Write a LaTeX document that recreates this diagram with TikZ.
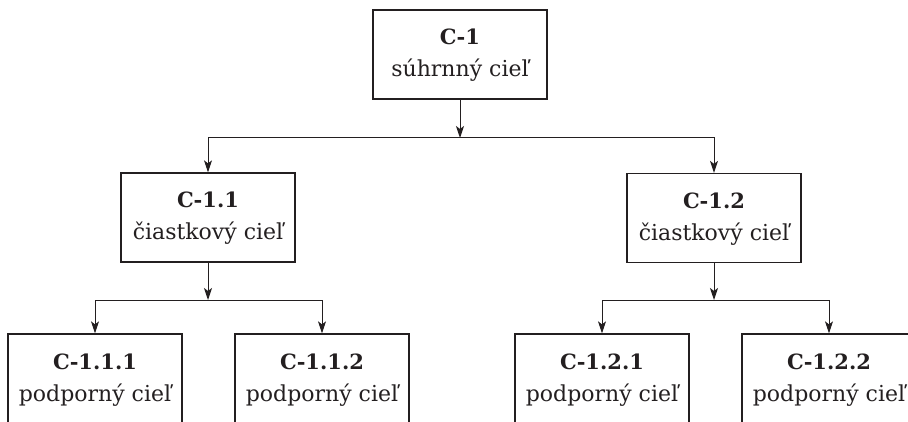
\documentclass[tikz,border=0pt]{standalone}
\usepackage{fontspec}
\setmainfont{DejaVu Serif}
\usetikzlibrary{arrows.meta}
\definecolor{ink}{HTML}{231F20}
\newcommand{\goaltxt}[2]{{\fontsize{21}{32}\selectfont\bfseries #1}\\#2}
\tikzset{
  goal/.style={draw=ink, line width=1.3pt, rectangle, minimum width=174pt, minimum height=89pt,
    inner sep=0pt, align=center, text=ink, font=\fontsize{22}{32}\selectfont,
    text height=51pt, text depth=6pt},
  conn/.style={draw=ink, line width=1pt, -{Stealth[length=12pt, width=8pt, inset=3pt]}},
  link/.style={draw=ink, line width=1pt}
}
\begin{document}
\begin{tikzpicture}[x=1pt, y=-1pt]
\useasboundingbox (0,0) rectangle (908,422);
\clip (0,0) rectangle (908,422);
\node[goal] (c1) at (460,54.5) {\goaltxt{C-1}{súhrnný cieľ}};
\node[goal] (c11) at (208,217.5) {\goaltxt{C-1.1}{čiastkový cieľ}};
\node[goal] (c12) at (714,218) {\goaltxt{C-1.2}{čiastkový cieľ}};
\node[goal] (c111) at (95,378.5) {\goaltxt{C-1.1.1}{podporný cieľ}};
\node[goal] (c112) at (322,378.5) {\goaltxt{C-1.1.2}{podporný cieľ}};
\node[goal] (c121) at (602,378.5) {\goaltxt{C-1.2.1}{podporný cieľ}};
\node[goal] (c122) at (829,378.5) {\goaltxt{C-1.2.2}{podporný cieľ}};
\coordinate (j1) at (460,138);
\coordinate (j11) at (208,300);
\coordinate (j12) at (714,300);
\draw[conn] (c1.south) -- (j1);
\draw[conn] (j1) -| (c11.north);
\draw[conn] (j1) -| (c12.north);
\draw[conn] (c11.south) -- (j11);
\draw[conn] (j11) -| (c111.north);
\draw[conn] (j11) -| (c112.north);
\draw[conn] (c12.south) -- (j12);
\draw[conn] (j12) -| (c121.north);
\draw[conn] (j12) -| (c122.north);
\end{tikzpicture}
\end{document}
